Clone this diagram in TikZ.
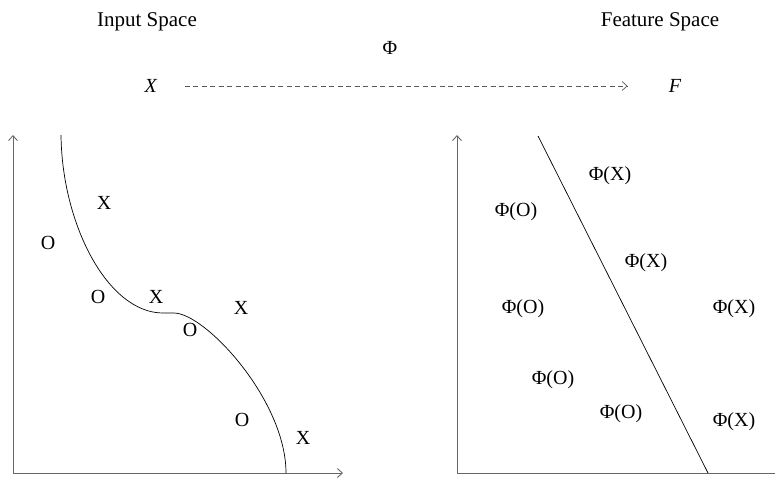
\documentclass[tikz,border=0pt]{standalone}
\usepackage{fontspec}
\setmainfont{Liberation Serif}
\usetikzlibrary{arrows.meta}
\begin{document}
\begin{tikzpicture}[x=1pt, y=-1pt, >={Straight Barb[length=5pt,width=9pt]},
      every node/.style={font=\fontsize{20}{24}\selectfont, inner sep=0pt},
      title/.style={font=\fontsize{21}{25}\selectfont},
      axis/.style={black!60, line width=0.9pt},
      bound/.style={black, line width=0.7pt},
      map/.style={black!65, line width=0.7pt, dash pattern=on 5pt off 3.5pt}]
    \useasboundingbox (0,0) rectangle (775,479);
    \node[title] (inp) at (147,22) {Input Space};
    \node[title] (feat) at (660,22) {Feature Space};
    \node (phi) at (390,48) {Φ};
    \node (xs) at (151,86) {\textit{X}};
    \node (fs) at (675,86) {\textit{F}};
    \draw[->, map, shorten <=27pt, shorten >=41pt] (xs) -- (fs);
    \coordinate (lo) at (13,473);
    \coordinate (ro) at (457,473);
    \draw[->, axis] (lo) -- ++(0,-338);
    \draw[->, axis] (lo) -- ++(330,0);
    \draw[->, axis] (ro) -- ++(0,-338);
    \draw[axis] (ro) -- ++(318,0);
    \draw[bound] (61,135) .. controls (62,225) and (108,313) .. (163,313) -- (174,313)
      .. controls (205,313) and (286,400) .. (286,473);
    \draw[bound] (538,136) -- (708,473);
    \node (x1) at (104,203) {X};
    \node (o1) at (48,243) {O};
    \node (o2) at (98,297) {O};
    \node (x2) at (156,297) {X};
    \node (x3) at (241,308) {X};
    \node (o3) at (190,330) {O};
    \node (o4) at (242,420) {O};
    \node (x4) at (303,438) {X};
    \node (px1) at (610,176) {Φ(X)};
    \node (po1) at (516,212) {Φ(O)};
    \node (px2) at (646,263) {Φ(X)};
    \node (po2) at (523,309) {Φ(O)};
    \node (px3) at (734,309) {Φ(X)};
    \node (po3) at (553,380) {Φ(O)};
    \node (po4) at (621,414) {Φ(O)};
    \node (px4) at (734,422) {Φ(X)};
  \end{tikzpicture}
\end{document}
